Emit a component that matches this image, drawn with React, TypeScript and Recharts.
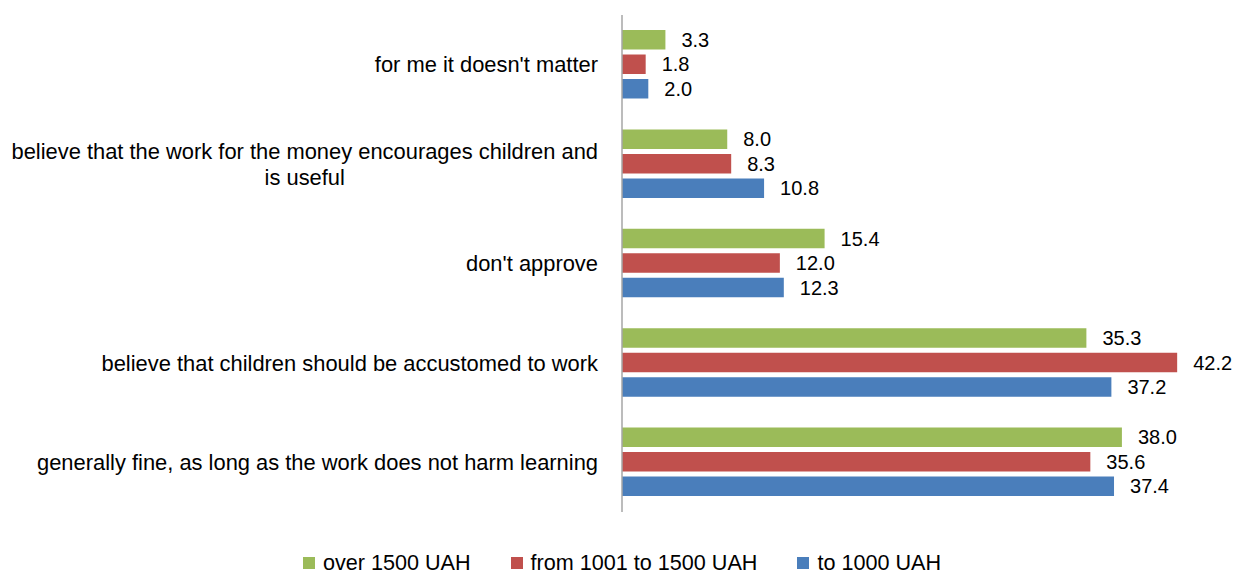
import React from 'react';
import { BarChart, Bar, XAxis, YAxis, LabelList, Legend } from 'recharts';

const categories = [
  "for me it doesn't matter",
  'believe that the work for the money encourages children and|is useful',
  "don't approve",
  'believe that children should be accustomed to work',
  'generally fine, as long as the work does not harm learning',
];
const over1500 = [3.3, 8.0, 15.4, 35.3, 38.0];
const from1001to1500 = [1.8, 8.3, 12.0, 42.2, 35.6];
const to1000 = [2.0, 10.8, 12.3, 37.2, 37.4];

const seriesNames = ['over 1500 UAH', 'from 1001 to 1500 UAH', 'to 1000 UAH'];
const seriesKeys = ['a', 'b', 'c'];
const colors = ['#9BBB59', '#C0504D', '#4A7EBB'];

const data = categories.map((c, i) => ({
  name: c,
  a: over1500[i],
  b: from1001to1500[i],
  c: to1000[i],
}));

const FONT = '"Liberation Sans", Arial, sans-serif';
const CAT_FS = 21.9;
const LBL_FS = 20;
const LEG_FS = 21.6;

function measure(text: string): number {
  if (typeof document === 'undefined') return text.length * 10;
  const c = document.createElement('canvas');
  const ctx = c.getContext('2d');
  if (!ctx) return text.length * 10;
  ctx.font = `${CAT_FS}px ${FONT}`;
  return ctx.measureText(text).width;
}

const CategoryTick = (props: any) => {
  const { x, y, payload } = props;
  const lines: string[] = String(payload.value).split('|');
  if (lines.length === 1) {
    return (
      <text x={x} y={y} dy="0.35em" textAnchor="end" fontSize={CAT_FS} fontFamily={FONT} fill="#000">
        {lines[0]}
      </text>
    );
  }
  const w = Math.max(...lines.map(measure));
  const cx = x - w / 2;
  const lh = 26;
  const startY = y - ((lines.length - 1) * lh) / 2;
  return (
    <text x={cx} y={startY} textAnchor="middle" fontSize={CAT_FS} fontFamily={FONT} fill="#000">
      {lines.map((l, i) => (
        <tspan key={i} x={cx} y={startY + i * lh} dy="0.35em">
          {l}
        </tspan>
      ))}
    </text>
  );
};

const LegendContent = () => (
  <div
    style={{
      height: 62,
      paddingTop: 39,
      boxSizing: 'border-box',
      display: 'flex',
      justifyContent: 'center',
      alignItems: 'flex-start',
      fontFamily: FONT,
      fontSize: LEG_FS,
      color: '#000',
      paddingLeft: 30,
    }}
  >
    {seriesNames.map((n, i) => (
      <div key={n} style={{ display: 'flex', alignItems: 'center', marginRight: i < 2 ? 40 : 0, height: 24 }}>
        <span style={{ width: 12, height: 12, background: colors[i], display: 'inline-block', marginRight: 8 }} />
        <span style={{ lineHeight: '24px' }}>{n}</span>
      </div>
    ))}
  </div>
);

export default function App() {
  return (
    <div style={{ position: 'absolute', left: 0, top: 0, width: 1234, height: 574, background: '#fff' }}>
      <BarChart
        width={1234}
        height={574}
        data={data}
        layout="vertical"
        margin={{ top: 15, right: 20, bottom: 0, left: 0 }}
        barSize={19.5}
        barGap={5}
      >
        <XAxis type="number" domain={[0, 45]} hide />
        <YAxis
          type="category"
          dataKey="name"
          width={622}
          tick={<CategoryTick />}
          tickLine={false}
          tickMargin={18}
          axisLine={{ stroke: '#A6A6A6', strokeWidth: 1.5 }}
          interval={0}
        />
        <Legend verticalAlign="bottom" height={62} content={<LegendContent />} />
        {seriesKeys.map((k, i) => (
          <Bar key={k} dataKey={k} name={seriesNames[i]} fill={colors[i]} isAnimationActive={false}>
            <LabelList
              dataKey={k}
              position="right"
              offset={16}
              formatter={(v: any) => Number(v).toFixed(1)}
              style={{ fontSize: LBL_FS, fontFamily: FONT, fill: '#000' }}
            />
          </Bar>
        ))}
      </BarChart>
    </div>
  );
}
